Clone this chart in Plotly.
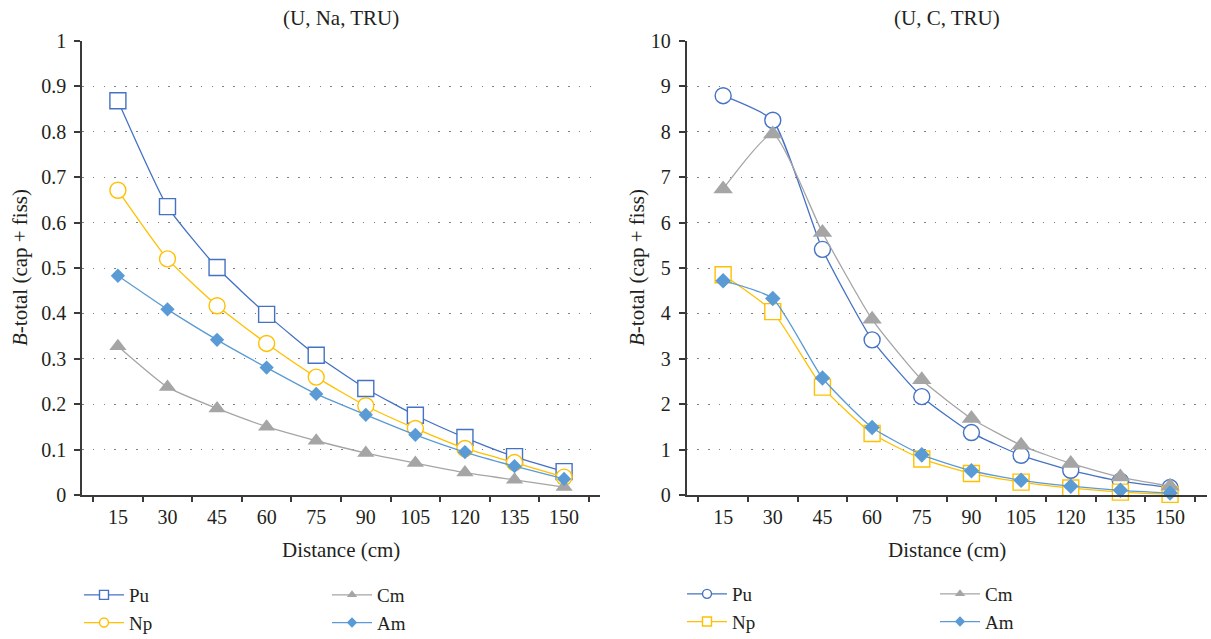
import plotly.graph_objects as go

# Distance from the source (cm), shared by both panels
distance = ["15", "30", "45", "60", "75", "90", "105", "120", "135", "150"]

# (U, Na, TRU) panel: B-total (cap + fiss)
na_pu = [0.868, 0.635, 0.501, 0.398, 0.308, 0.235, 0.176, 0.127, 0.085, 0.052]
na_np = [0.671, 0.520, 0.417, 0.334, 0.260, 0.197, 0.147, 0.103, 0.072, 0.040]
na_cm = [0.328, 0.238, 0.191, 0.151, 0.120, 0.093, 0.071, 0.050, 0.034, 0.018]
na_am = [0.483, 0.409, 0.342, 0.281, 0.223, 0.177, 0.133, 0.095, 0.064, 0.036]

# (U, C, TRU) panel: B-total (cap + fiss)
c_pu = [8.79, 8.25, 5.41, 3.42, 2.17, 1.38, 0.88, 0.55, 0.31, 0.17]
c_np = [4.85, 4.04, 2.38, 1.36, 0.80, 0.48, 0.29, 0.16, 0.07, 0.02]
c_cm = [6.74, 7.95, 5.78, 3.87, 2.54, 1.69, 1.10, 0.70, 0.40, 0.20]
c_am = [4.72, 4.33, 2.58, 1.49, 0.89, 0.54, 0.33, 0.20, 0.11, 0.05]

W, H = 1211, 639
FONT = "Liberation Serif"
TXT = "#231f20"
AXC = "#3a3a3a"

C_PU = "#4472C4"
C_NP = "#FFC000"
C_CM = "#A5A5A5"
C_AM = "#5B9BD5"


def px_x(v):
    return v / W


def px_y(v):
    return 1 - v / H


fig = go.Figure()


def style(color, symbol, size, hollow):
    if hollow:
        return dict(symbol=symbol, size=size, color="white",
                    line=dict(color=color, width=1.4))
    return dict(symbol=symbol, size=size, color=color, line=dict(width=0))


def add(y, name, color, symbol, size, xa, ya, legend, hollow):
    line = dict(color=color, width=1.3, shape="spline", smoothing=0.5)
    fig.add_trace(go.Scatter(
        x=distance, y=y, name=name, mode="lines+markers", line=line,
        marker=style(color, symbol, size, hollow), xaxis=xa, yaxis=ya,
        showlegend=False, cliponaxis=False,
    ))
    # legend key with a smaller symbol
    fig.add_trace(go.Scatter(
        x=[None], y=[None], name=name, mode="lines+markers",
        line=dict(color=color, width=1.3),
        marker=style(color, symbol, 9 if symbol != "diamond" else 8, hollow),
        xaxis=xa, yaxis=ya, legend=legend, showlegend=True,
    ))


# left panel
add(na_pu, "Pu", C_PU, "square", 16, "x", "y", "legend", True)
add(na_np, "Np", C_NP, "circle", 16, "x", "y", "legend", True)
add(na_cm, "Cm", C_CM, "triangle-up", 15, "x", "y", "legend2", False)
add(na_am, "Am", C_AM, "diamond", 11, "x", "y", "legend2", False)

# right panel
add(c_pu, "Pu", C_PU, "circle", 16, "x2", "y2", "legend3", True)
add(c_np, "Np", C_NP, "square", 16, "x2", "y2", "legend3", True)
add(c_cm, "Cm", C_CM, "triangle-up", 17, "x2", "y2", "legend4", False)
add(c_am, "Am", C_AM, "diamond", 12, "x2", "y2", "legend4", False)

ydom = [px_y(495.3), px_y(40.7)]
xdom1 = [px_x(82), px_x(600)]
xdom2 = [px_x(686.5), px_x(1206.7)]

xcommon = dict(type="category", showline=True, linecolor=AXC, linewidth=1.5,
               ticks="outside", tickson="boundaries", ticklen=5, tickwidth=1.5,
               tickcolor=AXC, showgrid=False, zeroline=False, ticklabelstandoff=3,
               tickfont=dict(family=FONT, size=20, color=TXT))
ycommon = dict(showline=True, linecolor=AXC, linewidth=1.5, ticks="outside",
               ticklen=6, tickwidth=1.5, tickcolor=AXC, showgrid=True,
               gridcolor="#808080", gridwidth=1.2, griddash="1.5px,9.3px",
               zeroline=False, ticklabelstandoff=4,
               tickfont=dict(family=FONT, size=20, color=TXT))

legcommon = dict(orientation="v", font=dict(family=FONT, size=19, color=TXT),
                 bgcolor="rgba(0,0,0,0)", xanchor="left", yanchor="top",
                 itemwidth=40, tracegroupgap=0)

fig.update_layout(
    width=W, height=H,
    margin=dict(l=0, r=0, t=0, b=0, autoexpand=False),
    paper_bgcolor="white", plot_bgcolor="white",
    font=dict(family=FONT, size=20, color=TXT),
    xaxis=dict(domain=xdom1, anchor="y", **xcommon),
    yaxis=dict(domain=ydom, anchor="x", range=[0, 1], tick0=0, dtick=0.1, **ycommon),
    xaxis2=dict(domain=xdom2, anchor="y2", **xcommon),
    yaxis2=dict(domain=ydom, anchor="x2", range=[0, 10], tick0=0, dtick=1, **ycommon),
    legend=dict(x=px_x(79), y=px_y(576), **legcommon),
    legend2=dict(x=px_x(327), y=px_y(576), **legcommon),
    legend3=dict(x=px_x(682), y=px_y(575), **legcommon),
    legend4=dict(x=px_x(935), y=px_y(575), **legcommon),
    showlegend=True,
)

annots = [
    dict(text="(U, Na, TRU)", x=(xdom1[0] + xdom1[1]) / 2, y=px_y(18)),
    dict(text="(U, C, TRU)", x=(xdom2[0] + xdom2[1]) / 2, y=px_y(18)),
    dict(text="Distance (cm)", x=(xdom1[0] + xdom1[1]) / 2, y=px_y(550)),
    dict(text="Distance (cm)", x=(xdom2[0] + xdom2[1]) / 2, y=px_y(550)),
]
for a in annots:
    fig.add_annotation(xref="paper", yref="paper", showarrow=False,
                       xanchor="center", yanchor="middle",
                       font=dict(family=FONT, size=21, color=TXT), **a)
for xp in (20, 637):
    fig.add_annotation(xref="paper", yref="paper", showarrow=False,
                       xanchor="center", yanchor="middle", textangle=-90,
                       text="<i>B</i>-total (cap + fiss)", x=px_x(xp),
                       y=(ydom[0] + ydom[1]) / 2,
                       font=dict(family=FONT, size=21, color=TXT))

fig.write_html("out.html")
